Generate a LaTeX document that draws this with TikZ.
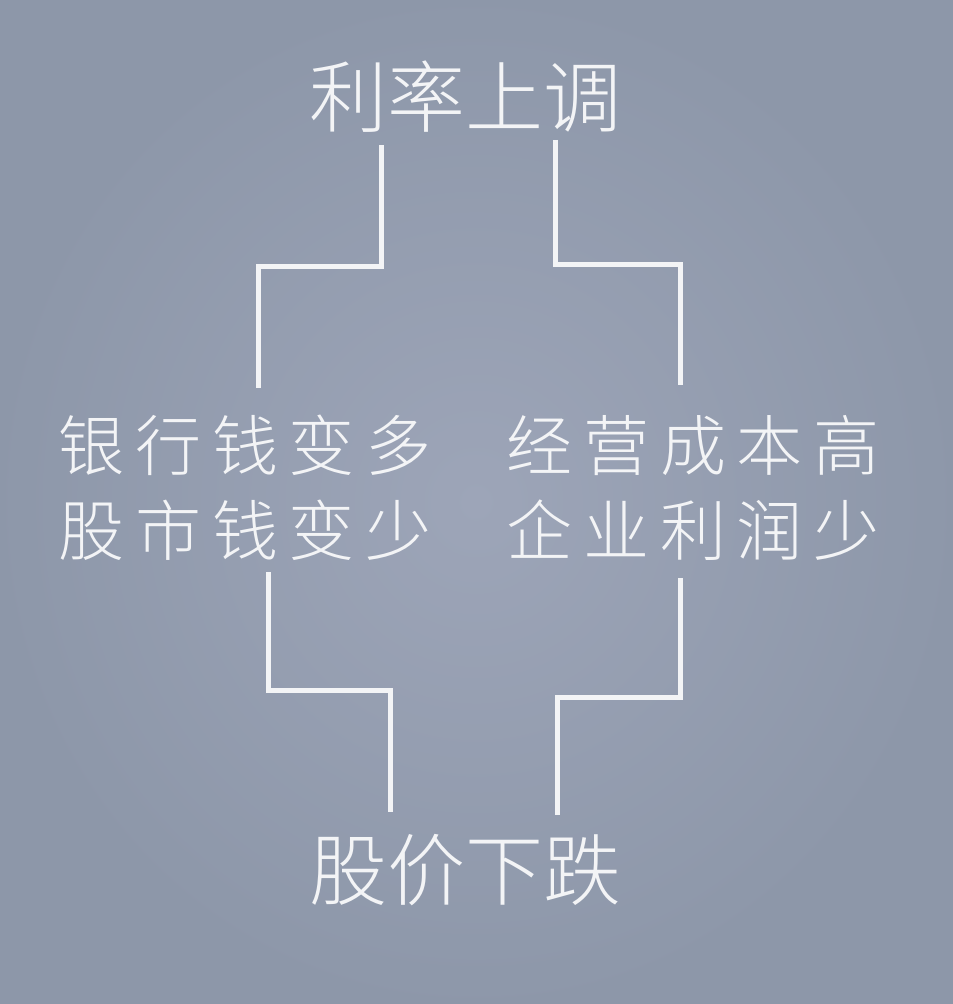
\documentclass[tikz,border=0pt]{standalone}
\usepackage{fontspec}
\newfontfamily\cjk{Noto Sans CJK SC}[UprightFont=* Light]
\usetikzlibrary{positioning}

\definecolor{bgmid}{HTML}{9DA5B8}
\definecolor{bgedge}{HTML}{8D97A9}
\definecolor{ink}{HTML}{F3F4F6}

\tikzset{
  head/.style={text=ink, inner sep=0pt, font=\cjk\fontsize{39pt}{39pt}\selectfont},
  cause/.style={text=ink, inner sep=0pt, align=center,
    font=\cjk\addfontfeature{LetterSpace=16}\fontsize{33pt}{42.5pt}\selectfont},
  link/.style={draw=ink, line width=2.5pt}
}

\begin{document}
\begin{tikzpicture}[x=0.5pt,y=-0.5pt]
\useasboundingbox (0,0) rectangle (952,1004);
% background
\shade[inner color=bgmid, outer color=bgedge] (-10,-10) rectangle (962,1014);

% texts
\node[head] (rate) at (465,97) {利率上调};
\node[cause] (bank) at (245,488) {银行钱变多\\股市钱变少};
\node[cause] (cost) at (693,488) {经营成本高\\企业利润少};
\node[head] (drop) at (465,870) {股价下跌};

% link ends
\coordinate (rateL) at (381,145);
\coordinate (rateR) at (555,140);
\coordinate (bankT) at (258,388);
\coordinate (costT) at (680,385);
\coordinate (bankB) at (268,572);
\coordinate (costB) at (680,578);
\coordinate (dropL) at (390,812);
\coordinate (dropR) at (557,815);

% upper links
\draw[link] (rateL) |- (258,267) -- (bankT);
\draw[link] (rateR) |- (680,265) -- (costT);

% lower links
\draw[link] (bankB) |- (390,690) -- (dropL);
\draw[link] (costB) |- (557,697) -- (dropR);
\end{tikzpicture}
\end{document}
